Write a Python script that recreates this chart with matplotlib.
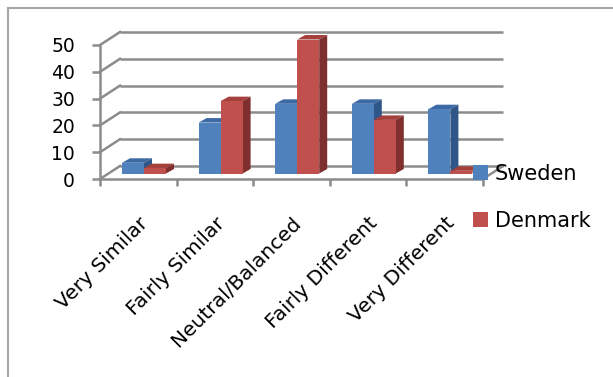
import matplotlib
matplotlib.use('Agg')
import matplotlib.pyplot as plt
from matplotlib.patches import Polygon, Patch
from matplotlib.lines import Line2D

# dados
categorias = ['Very Similar', 'Fairly Similar', 'Neutral/Balanced', 'Fairly Different', 'Very Different']
sweden = [4, 19, 26, 26, 24]
denmark = [2, 27, 50, 20, 1]
y_ticks = [0, 10, 20, 30, 40, 50]
series = ['Sweden', 'Denmark']

# cores (frente, topo, lado)
cores = {
    'Sweden': ('#4f81bd', '#3d6aa5', '#2f5688'),
    'Denmark': ('#c0504d', '#a5403d', '#7f2f2d'),
}
cinza = '#8c8c8c'

W, H = 613, 377
fig = plt.figure(figsize=(W / 100, H / 100), dpi=100)

# plano da frente da "caixa" 3D, em pixels
x0, x1 = 100, 483
y0, y50 = 179, 45
ax = fig.add_axes([x0 / W, 1 - y0 / H, (x1 - x0) / W, (y0 - y50) / H])
n = len(categorias)
ax.set_xlim(0, n)
ax.set_ylim(0, 50)

ux = (x1 - x0) / n      # px por categoria
uy = (y0 - y50) / 50    # px por unidade

# profundidade da parede do fundo, deslocamento das barras e espessura
fundo_dx, fundo_dy = 20 / ux, 13 / uy
base_barra = 5.5 / uy
prof_dx, prof_dy = 8 / ux, 4.5 / uy
larg = 22 / ux
inicio = 22 / ux

# parede do fundo e linhas laterais
for v in y_ticks:
    ax.plot([fundo_dx, n + fundo_dx], [v + fundo_dy] * 2, color=cinza, lw=1.8,
            clip_on=False, zorder=1, solid_capstyle='butt')
    ax.plot([0, fundo_dx], [v, v + fundo_dy], color=cinza, lw=1.8,
            clip_on=False, zorder=1)
ax.plot([n, n + fundo_dx], [0, fundo_dy], color=cinza, lw=1.8, clip_on=False, zorder=1)

# barras com faces de topo e lado
for k, (nome, valores) in enumerate([('Sweden', sweden), ('Denmark', denmark)]):
    frente, topo, lado = cores[nome]
    xs = [i + inicio + k * larg for i in range(n)]
    z = 3 + k
    ax.bar(xs, valores, width=larg, bottom=base_barra, align='edge',
           color=frente, zorder=z + 0.5, clip_on=False, linewidth=0)
    for x, v in zip(xs, valores):
        t = base_barra + v
        ax.add_patch(Polygon([(x, t), (x + larg, t), (x + larg + prof_dx, t + prof_dy),
                              (x + prof_dx, t + prof_dy)], closed=True,
                             facecolor=topo, edgecolor='none', zorder=z, clip_on=False))
        ax.add_patch(Polygon([(x + larg, base_barra), (x + larg + prof_dx, base_barra + prof_dy),
                              (x + larg + prof_dx, t + prof_dy), (x + larg, t)], closed=True,
                             facecolor=lado, edgecolor='none', zorder=z, clip_on=False))

# eixos
for s in ['top', 'right']:
    ax.spines[s].set_visible(False)
for s in ['left', 'bottom']:
    ax.spines[s].set_color(cinza)
    ax.spines[s].set_linewidth(1.8)
ax.patch.set_visible(False)

ax.set_yticks(y_ticks)
ax.set_yticklabels([str(v) for v in y_ticks], fontsize=13.5)
ax.tick_params(axis='y', length=6, width=1.8, color=cinza, pad=12)

ax.set_xticks(range(n + 1))
ax.set_xticklabels([])
ax.set_xticks([i + 0.5 for i in range(n)], minor=True)
ax.set_xticklabels(categorias, minor=True, fontsize=14.5, rotation=45,
                   ha='right', va='top', rotation_mode='anchor')
ax.tick_params(axis='x', which='major', length=5, width=1.8, color=cinza)
ax.tick_params(axis='x', which='minor', length=0, pad=25)

# legenda
handles = [Patch(facecolor=cores[s][0], edgecolor='none') for s in series]
fig.legend(handles, series, loc='upper left', bbox_to_anchor=(473 / W, 1 - 164 / H),
           frameon=False, fontsize=15, handlelength=0.7, handleheight=0.7,
           handletextpad=0.35, labelspacing=1.3, borderpad=0, borderaxespad=0)

# moldura do grafico
fig.add_artist(Line2D([8 / W, 1], [1 - 8 / H] * 2, color='#a6a6a6', lw=1.5))
fig.add_artist(Line2D([8 / W] * 2, [0, 1 - 8 / H], color='#a6a6a6', lw=1.5))

fig.savefig('out.png', dpi=100)
